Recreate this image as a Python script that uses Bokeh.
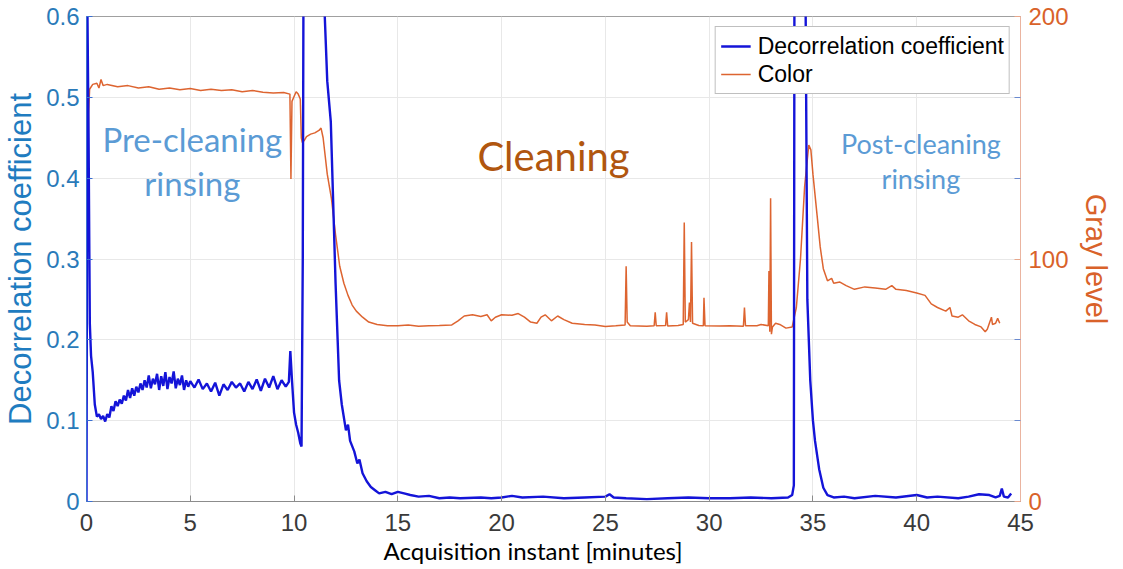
from bokeh.plotting import figure
from bokeh.models import (Range1d, LinearAxis, FixedTicker, CustomJSTickFormatter,
                          Legend, LegendItem, Label, Title)
from bokeh.embed import file_html
from bokeh.resources import INLINE

# ---------------- data ----------------
decor_t = [0.00, 0.04, 0.10, 0.16, 0.22, 0.30, 0.40, 0.50, 0.60, 0.70, 0.80, 0.90,
           1.00, 1.10, 1.20, 1.30, 1.40, 1.50, 1.60, 1.70, 1.80, 1.90, 2.00, 2.10,
           2.20, 2.30, 2.40, 2.50, 2.60, 2.70, 2.80, 2.90, 3.00, 3.10, 3.20, 3.30,
           3.40, 3.50, 3.60, 3.70, 3.80, 3.90, 4.00, 4.10, 4.20, 4.30, 4.40, 4.50,
           4.60, 4.70, 4.80, 4.90, 5.00, 5.20, 5.40, 5.60, 5.80, 6.00, 6.20, 6.40,
           6.60, 6.80, 7.00, 7.20, 7.40, 7.60, 7.80, 8.00, 8.20, 8.40, 8.60, 8.80,
           9.00, 9.20, 9.40, 9.60, 9.75, 9.82, 9.90, 10.00, 10.10, 10.20, 10.30, 10.36,
           10.42, 10.48, 11.35, 11.45, 11.60, 11.77, 12.00, 12.10, 12.17, 12.30, 12.50, 12.60,
           12.70, 12.90, 13.05, 13.15, 13.30, 13.50, 13.70, 13.90, 14.10, 14.40, 14.70, 15.00,
           15.30, 15.60, 16.00, 16.50, 17.00, 17.50, 18.00, 19.00, 19.50, 20.00, 20.50, 21.00,
           22.00, 23.00, 24.00, 25.00, 25.20, 25.40, 26.00, 27.00, 28.00, 29.00, 30.00, 31.00,
           32.00, 33.00, 33.80, 34.00, 34.08, 34.12, 34.60, 34.65, 34.73, 34.87, 35.00, 35.10,
           35.30, 35.50, 35.70, 36.00, 36.50, 37.00, 38.00, 39.00, 40.00, 40.50, 41.00, 42.00,
           42.50, 43.00, 43.50, 43.80, 44.00, 44.10, 44.20, 44.40, 44.55]
decor_v = [0.000, 0.620, 0.450, 0.220, 0.180, 0.160, 0.120, 0.105, 0.108, 0.102, 0.106, 0.099,
           0.108, 0.104, 0.118, 0.112, 0.124, 0.118, 0.126, 0.121, 0.131, 0.125, 0.138, 0.128,
           0.140, 0.131, 0.142, 0.135, 0.146, 0.138, 0.150, 0.141, 0.156, 0.140, 0.152, 0.145,
           0.158, 0.138, 0.155, 0.143, 0.160, 0.139, 0.154, 0.146, 0.161, 0.140, 0.152, 0.144,
           0.156, 0.138, 0.150, 0.142, 0.149, 0.141, 0.151, 0.139, 0.146, 0.136, 0.147, 0.131,
           0.145, 0.138, 0.148, 0.141, 0.146, 0.136, 0.148, 0.139, 0.151, 0.137, 0.152, 0.141,
           0.155, 0.139, 0.150, 0.142, 0.148, 0.186, 0.150, 0.110, 0.095, 0.085, 0.072, 0.068,
           0.300, 0.900, 0.900, 0.620, 0.520, 0.470, 0.270, 0.200, 0.150, 0.120, 0.088, 0.095,
           0.075, 0.062, 0.047, 0.052, 0.035, 0.025, 0.018, 0.014, 0.010, 0.012, 0.009, 0.012,
           0.010, 0.008, 0.006, 0.007, 0.004, 0.005, 0.004, 0.005, 0.004, 0.005, 0.007, 0.005,
           0.006, 0.004, 0.005, 0.006, 0.009, 0.005, 0.004, 0.003, 0.004, 0.005, 0.004, 0.004,
           0.005, 0.004, 0.005, 0.008, 0.020, 0.900, 0.900, 0.600, 0.250, 0.150, 0.100, 0.075,
           0.040, 0.017, 0.008, 0.005, 0.006, 0.004, 0.007, 0.005, 0.008, 0.005, 0.006, 0.004,
           0.006, 0.009, 0.008, 0.005, 0.007, 0.016, 0.006, 0.005, 0.010]

gray_t = [0.00, 0.05, 0.10, 0.15, 0.30, 0.50, 0.60, 0.70, 0.80, 1.00, 1.50, 2.00,
          2.50, 3.00, 3.50, 4.00, 4.50, 5.00, 5.50, 6.00, 6.50, 7.00, 7.50, 8.00,
          8.50, 9.00, 9.50, 9.80, 9.85, 9.90, 10.00, 10.10, 10.20, 10.30, 10.35, 10.40,
          10.50, 10.60, 10.80, 11.00, 11.20, 11.30, 11.40, 11.60, 11.80, 12.00, 12.20, 12.40,
          12.60, 12.80, 13.00, 13.30, 13.60, 14.00, 14.50, 15.00, 15.50, 16.00, 16.50, 17.00,
          17.60, 17.90, 18.20, 18.60, 19.00, 19.30, 19.50, 19.70, 20.00, 20.50, 20.80, 21.10,
          21.40, 21.70, 21.90, 22.10, 22.40, 22.70, 23.00, 23.40, 24.00, 24.50, 25.00, 25.50,
          25.95, 26.00, 26.05, 26.20, 27.00, 27.35, 27.40, 27.45, 27.90, 27.95, 28.00, 28.50,
          28.75, 28.80, 28.85, 29.00, 29.05, 29.10, 29.15, 29.20, 29.50, 29.72, 29.75, 29.80,
          30.50, 31.00, 31.65, 31.70, 31.75, 32.30, 32.50, 32.85, 32.88, 32.92, 32.96, 33.00,
          33.05, 33.20, 33.40, 33.70, 34.00, 34.20, 34.40, 34.60, 34.80, 34.90, 35.00, 35.20,
          35.35, 35.50, 35.70, 35.90, 36.00, 36.30, 36.60, 37.00, 37.50, 38.00, 38.50, 38.80,
          39.00, 39.50, 40.00, 40.40, 40.70, 41.00, 41.40, 41.60, 41.70, 42.00, 42.20, 42.50,
          42.80, 43.10, 43.30, 43.40, 43.50, 43.60, 43.65, 43.80, 43.90, 44.00]
gray_v = [40.0, 120.0, 160.0, 170.0, 172.0, 172.5, 170.5, 174.0, 171.5, 172.0, 171.0, 171.5,
          170.5, 171.0, 170.0, 170.5, 169.8, 170.3, 169.5, 170.0, 169.5, 169.8, 169.0, 169.5,
          168.8, 168.5, 168.7, 168.0, 133.0, 165.0, 167.0, 169.0, 168.0, 166.0, 150.0, 148.0,
          149.0, 150.5, 151.5, 152.0, 153.0, 154.0, 150.0, 135.0, 125.0, 110.0, 97.0, 90.0,
          85.0, 81.0, 78.5, 76.0, 74.0, 73.0, 72.5, 72.5, 72.8, 72.3, 72.5, 72.6,
          72.8, 74.5, 76.5, 77.0, 76.3, 77.0, 74.5, 76.0, 77.0, 76.8, 77.5, 76.0,
          74.0, 73.5, 76.0, 77.0, 74.5, 76.5, 75.0, 73.5, 73.0, 72.8, 72.2, 72.5,
          72.8, 97.0, 74.0, 72.5, 72.3, 72.5, 78.0, 72.5, 72.6, 78.0, 72.4, 72.6,
          73.0, 115.0, 74.0, 75.0, 82.0, 74.0, 107.0, 73.5, 72.6, 72.5, 84.0, 72.5,
          72.4, 72.5, 72.3, 80.0, 72.5, 72.5, 73.0, 72.5, 95.0, 70.0, 125.0, 69.0,
          72.0, 73.5, 73.0, 71.5, 72.0, 80.0, 100.0, 130.0, 147.0, 145.0, 135.0, 118.0,
          105.0, 96.0, 91.0, 92.0, 90.0, 90.5, 89.0, 87.5, 88.5, 88.0, 87.5, 89.0,
          87.5, 87.0, 86.0, 85.0, 81.5, 80.0, 78.5, 80.0, 76.5, 76.0, 77.0, 74.5,
          73.0, 72.0, 70.0, 71.0, 73.5, 76.0, 73.0, 73.5, 75.5, 73.5]

x_ticks = [0, 5, 10, 15, 20, 25, 30, 35, 40, 45]
decor_ticks = [0, 0.1, 0.2, 0.3, 0.4, 0.5, 0.6]
gray_ticks = [0, 100, 200]
gray_minor_ticks = [200 / 6, 400 / 6, 800 / 6, 1000 / 6]

series_names = ["Decorrelation coefficient", "Color"]
phase_labels = [("Pre-cleaning", 5.1, 0.449), ("rinsing", 5.1, 0.394),
                ("Cleaning", 22.5, 0.427),
                ("Post-cleaning", 40.2, 0.443), ("rinsing", 40.2, 0.399)]

# ---------------- figure ----------------
BLUE_TXT = "#2a7ab9"
ORANGE_TXT = "#d9622a"

p = figure(frame_width=934, frame_height=485, output_backend="svg", toolbar_location=None,
           x_range=Range1d(0, 45), y_range=Range1d(0, 0.6),
           min_border_left=81, min_border_right=5, min_border_top=16, min_border_bottom=5,
           background_fill_color="white", border_fill_color="white")
p.outline_line_color = "#a0a0a0"
p.extra_y_ranges = {"gray": Range1d(0, 200)}

# grids
p.xgrid.ticker = FixedTicker(ticks=x_ticks)
p.ygrid.ticker = FixedTicker(ticks=decor_ticks)
for g in (p.xgrid, p.ygrid):
    g.grid_line_color = "#e8e8e8"
    g.grid_line_width = 1

# x axis
xa = p.xaxis[0]
xa.ticker = FixedTicker(ticks=x_ticks)
xa.major_tick_in = 6
xa.major_tick_out = 0
xa.minor_tick_line_color = None
xa.axis_line_color = "#8c8c8c"
xa.major_tick_line_color = "#8c8c8c"
xa.major_label_text_font = "Liberation Sans"
xa.major_label_text_font_size = "24px"
xa.major_label_text_color = "#3a3a3a"
xa.major_label_standoff = 12

# left axis
ya = p.yaxis[0]
ya.ticker = FixedTicker(ticks=decor_ticks)
ya.formatter = CustomJSTickFormatter(code="return String(Math.round(tick*10)/10);")
ya.major_tick_in = 6
ya.major_tick_out = 0
ya.minor_tick_line_color = None
ya.axis_line_color = "#3a6fd0"
ya.major_tick_line_color = "#3a6fd0"
ya.major_label_text_font = "Liberation Sans"
ya.major_label_text_font_size = "24px"
ya.major_label_text_color = BLUE_TXT
ya.major_label_standoff = 7
ya.axis_label = "Decorrelation coefficient"
ya.axis_label_text_font = "Liberation Sans"
ya.axis_label_text_font_style = "normal"
ya.axis_label_text_font_size = "31px"
ya.axis_label_text_color = "#1f7cc0"
ya.axis_label_standoff = 5

# right axis
ra = LinearAxis(y_range_name="gray",
                ticker=FixedTicker(ticks=gray_ticks, minor_ticks=gray_minor_ticks))
ra.major_tick_in = 6
ra.major_tick_out = 0
ra.minor_tick_in = 6
ra.minor_tick_out = 0
ra.axis_line_color = "#eab4a0"
ra.major_tick_line_color = "#e8a68a"
ra.minor_tick_line_color = "#6a8ad0"
ra.major_label_text_font = "Liberation Sans"
ra.major_label_text_font_size = "24px"
ra.major_label_text_color = ORANGE_TXT
ra.major_label_standoff = 8
ra.axis_label = "Gray level"
ra.axis_label_text_font = "Liberation Sans"
ra.axis_label_text_font_style = "normal"
ra.axis_label_text_font_size = "29px"
ra.axis_label_text_color = ORANGE_TXT
ra.axis_label_standoff = 8
p.add_layout(ra, "right")

# x axis label as a title below
xt = Title(text="Acquisition instant [minutes]", align="left", offset=297,
           text_font="Lato", text_font_size="24px", text_font_style="normal",
           text_color="black", standoff=0)
p.add_layout(xt, "below")

# lines
r_gray = p.line(gray_t, gray_v, y_range_name="gray", line_color="#d95319",
                line_width=1.5, line_alpha=0.9)
r_dec = p.line(decor_t, decor_v, line_color="#1414d8", line_width=2.4)

legend = Legend(items=[LegendItem(label=series_names[0], renderers=[r_dec]),
                       LegendItem(label=series_names[1], renderers=[r_gray])],
                location="top_right")
legend.label_text_font = "Liberation Sans"
legend.label_text_font_size = "23px"
legend.label_text_color = "black"
legend.border_line_color = "#808080"
legend.border_line_width = 1
legend.background_fill_alpha = 1
legend.margin = 10
legend.padding = 5
legend.spacing = 0
legend.label_height = 28
legend.glyph_height = 28
legend.glyph_width = 30
legend.label_standoff = 7
p.add_layout(legend)

colors = {"Pre-cleaning": "#5b9bd5", "rinsing": "#5b9bd5", "Cleaning": "#b0560f",
          "Post-cleaning": "#5b9bd5"}
sizes = {"Pre-cleaning": "33px", "Cleaning": "40px", "Post-cleaning": "27px"}
for i, (txt, xx, yy) in enumerate(phase_labels):
    if txt == "rinsing":
        size = "33px" if i == 1 else "27px"
    else:
        size = sizes[txt]
    p.add_layout(Label(x=xx, y=yy, text=txt, text_align="center", text_baseline="middle",
                       text_font="Lato", text_font_size=size, text_color=colors[txt]))

open("out.html", "w").write(file_html(p, INLINE))
